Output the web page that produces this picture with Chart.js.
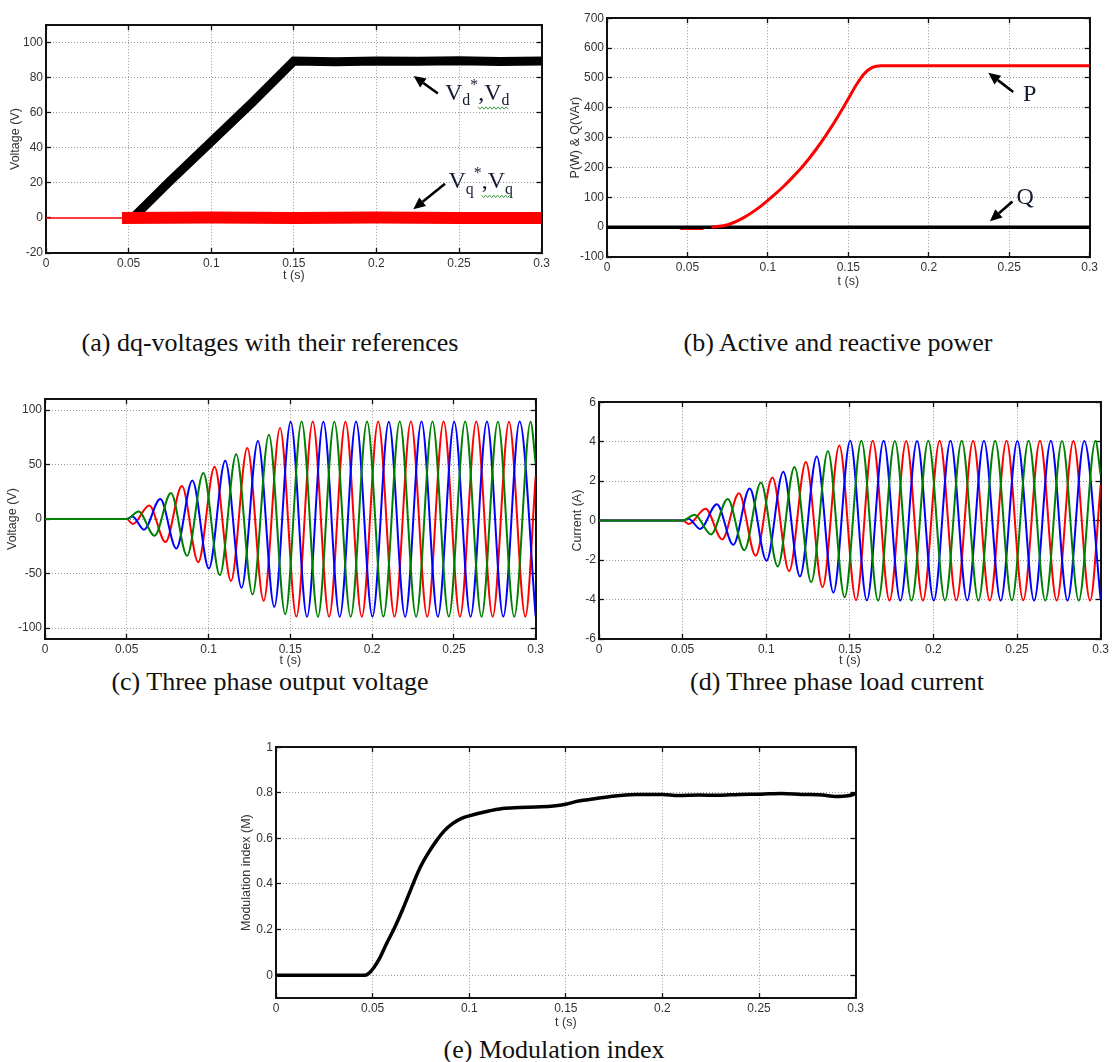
<!DOCTYPE html>
<html>
<head>
<meta charset="utf-8">
<title>Inverter simulation results</title>
<script src="https://cdn.jsdelivr.net/npm/chart.js@4.4.1/dist/chart.umd.min.js"></script>
<style>
  body { margin: 0; background: #fff; }
  #page { position: relative; width: 1117px; height: 1062px; overflow: hidden; background: #fff; }
  #page canvas { position: absolute; }
  .cap { position: absolute; transform: translate(-50%, -50%); white-space: nowrap;
         font-family: "Liberation Serif", "Times New Roman", serif; font-size: 26px; line-height: 1; color: #111; }
</style>
</head>
<body>
<div id="page">
  <div class="cap" style="left:270px; top:343px">(a) dq-voltages with their references</div>
  <div class="cap" style="left:838px; top:343px">(b) Active and reactive power</div>
  <div class="cap" style="left:270px; top:682px">(c) Three phase output voltage</div>
  <div class="cap" style="left:837px; top:682px">(d) Three phase load current</div>
  <div class="cap" style="left:554px; top:1050px">(e) Modulation index</div>
</div>
<script>
// time axis, shared by every plot
const timeTicks = [0, 0.05, 0.1, 0.15, 0.2, 0.25, 0.3];

// (a) dq voltages
const dqTicks = [-20, 0, 20, 40, 60, 80, 100];
const vdTime = [0.053, 0.075, 0.1, 0.125, 0.15, 0.175, 0.2, 0.225, 0.25, 0.275, 0.3];
const vdVolt = [0.5, 21, 43.5, 66, 89.5, 89.2, 89.6, 89.4, 89.7, 89.3, 89.5];
const vqTime = [0, 0.046];
const vqVolt = [0, 0];
const vqBandTime = [0.046, 0.1, 0.15, 0.2, 0.25, 0.3];
const vqBandVolt = [0, 0.2, 0, 0.2, 0, 0];

// (b) active / reactive power
const powerTicks = [-100, 0, 100, 200, 300, 400, 500, 600, 700];
const pTime = [0.065, 0.075, 0.085, 0.095, 0.1, 0.105, 0.11, 0.115, 0.12, 0.125, 0.13, 0.135, 0.14, 0.145, 0.15, 0.155, 0.16, 0.165, 0.17, 0.2, 0.25, 0.3];
const pPower = [0, 8, 32, 68, 90, 113, 138, 165, 194, 226, 261, 299, 340, 384, 430, 477, 515, 535, 541, 541, 541, 541];
const pDashTime = [0.0455, 0.06];
const pDashPower = [-6, -6];
const qTime = [0, 0.3];
const qPower = [0, 0];

// (c) / (d) three phase waveforms, peaks and troughs of each phase
const voltTicks = [-100, -50, 0, 50, 100];
const currTicks = [-6, -4, -2, 0, 2, 4, 6];
const redT = [0, 0.05, 0.0537, 0.0637, 0.0737, 0.0837, 0.0937, 0.1037, 0.1137, 0.1237, 0.1337, 0.1437, 0.1537, 0.1637, 0.1737, 0.1837, 0.1937, 0.2037, 0.2137, 0.2237, 0.2337, 0.2437, 0.2537, 0.2637, 0.2737, 0.2837, 0.2937, 0.3];
const redVolt = [0, 0, -4.5, 12.4, -21, 30.3, -39.5, 48, -56.8, 65.3, -75, 83.6, -89.4, 89.5, -89.5, 89.4, -89.6, 89.5, -89.4, 89.5, -89.5, 89.6, -89.4, 89.5, -89.5, 89.4, -89.5, 39];
const redAmp = [0, 0, -0.17, 0.6, -0.95, 1.38, -1.78, 2.18, -2.57, 2.97, -3.37, 3.8, -4.03, 4.05, -4.05, 4.04, -4.05, 4.05, -4.04, 4.05, -4.05, 4.05, -4.04, 4.05, -4.05, 4.04, -4.05, 1.8];
const greenT = [0, 0.05, 0.0572, 0.067, 0.077, 0.0869, 0.0968, 0.1069, 0.1169, 0.1269, 0.1369, 0.1469, 0.1569, 0.1669, 0.1769, 0.1869, 0.1969, 0.2069, 0.2169, 0.2269, 0.2369, 0.2469, 0.2569, 0.2669, 0.2769, 0.2869, 0.2969, 0.3];
const greenVolt = [0, 0, 7, -15.2, 24, -33.6, 42.4, -51.4, 59.6, -69, 77.5, -87.2, 89.5, -89.5, 89.4, -89.6, 89.5, -89.4, 89.5, -89.5, 89.6, -89.4, 89.5, -89.5, 89.4, -89.5, 89.4, 51];
const greenAmp = [0, 0, 0.3, -0.7, 1.1, -1.5, 1.93, -2.32, 2.72, -3.12, 3.52, -3.88, 4.05, -4.05, 4.04, -4.05, 4.05, -4.04, 4.05, -4.05, 4.05, -4.04, 4.05, -4.05, 4.04, -4.05, 4.05, 2.3];
const blueT = [0, 0.05, 0.0535, 0.0605, 0.0705, 0.0803, 0.0901, 0.1002, 0.1102, 0.1202, 0.1302, 0.1402, 0.1502, 0.1602, 0.1702, 0.1802, 0.1902, 0.2002, 0.2102, 0.2202, 0.2302, 0.2402, 0.2502, 0.2602, 0.2702, 0.2802, 0.2902, 0.3];
const blueVolt = [0, 0, 2.4, -9.7, 18.5, -27, 35.5, -45.3, 53.5, -62.9, 71.7, -80.5, 89.4, -89.5, 89.3, -89.6, 89.5, -89.4, 89.4, -89.6, 89.5, -89.5, 89.3, -89.5, 89.6, -89.4, 89.5, -89.3];
const blueAmp = [0, 0, 0.1, -0.42, 0.83, -1.23, 1.63, -2.03, 2.47, -2.83, 3.25, -3.65, 4.05, -4.04, 4.05, -4.05, 4.04, -4.05, 4.05, -4.04, 4.05, -4.05, 4.04, -4.05, 4.05, -4.05, 4.04, -4.0];

// (e) modulation index
const mTicks = [0, 0.2, 0.4, 0.6, 0.8, 1];
const mTime = [0, 0.0458, 0.0474, 0.0506, 0.0538, 0.057, 0.0613, 0.0656, 0.07, 0.0743, 0.0786, 0.0829, 0.0872, 0.0915, 0.0958, 0.1, 0.109, 0.1173, 0.1259, 0.1345, 0.1435, 0.15, 0.1565, 0.165, 0.1754, 0.186, 0.2, 0.208, 0.219, 0.229, 0.24, 0.2507, 0.2615, 0.272, 0.283, 0.2894, 0.296, 0.3];
const mIndex = [0, 0, 0.004, 0.033, 0.077, 0.135, 0.207, 0.289, 0.381, 0.467, 0.533, 0.588, 0.634, 0.666, 0.687, 0.699, 0.718, 0.731, 0.735, 0.738, 0.742, 0.75, 0.764, 0.774, 0.786, 0.792, 0.793, 0.788, 0.79, 0.789, 0.793, 0.794, 0.797, 0.793, 0.79, 0.784, 0.787, 0.796];

const RED = '#ff0000', GREEN = '#008000', BLUE = '#0000ff', BLACK = '#000000';
const sans = "'Liberation Sans', Arial, sans-serif";
const serif = "'Liberation Serif', 'Times New Roman', serif";

const pts = (xs, ys) => xs.map((x, i) => ({ x, y: ys[i] }));
const fmt = v => String(parseFloat(Number(v).toFixed(3)));

function line(xs, ys, color, width, extra) {
  return Object.assign({
    data: pts(xs, ys), borderColor: color, borderWidth: width,
    pointRadius: 0, fill: false, tension: 0, borderJoinStyle: 'round'
  }, extra || {});
}
const smooth = { cubicInterpolationMode: 'monotone' };

// arrows and the little Vd / Vq / P / Q labels, placed in data units
const notePlugin = {
  id: 'notes',
  afterDatasetsDraw(chart, args, opts) {
    const { ctx } = chart;
    const sx = chart.scales.x, sy = chart.scales.y;
    ctx.save();
    (opts.arrows || []).forEach(a => {
      const x1 = sx.getPixelForValue(a.from[0]), y1 = sy.getPixelForValue(a.from[1]);
      const x2 = sx.getPixelForValue(a.to[0]), y2 = sy.getPixelForValue(a.to[1]);
      const ang = Math.atan2(y2 - y1, x2 - x1);
      const hl = 12, hw = 5.5;
      const bx = x2 - hl * Math.cos(ang), by = y2 - hl * Math.sin(ang);
      ctx.strokeStyle = '#000';
      ctx.lineWidth = 2.6;
      ctx.beginPath(); ctx.moveTo(x1, y1); ctx.lineTo(bx, by); ctx.stroke();
      ctx.fillStyle = '#000';
      ctx.beginPath();
      ctx.moveTo(x2, y2);
      ctx.lineTo(bx + hw * Math.sin(ang), by - hw * Math.cos(ang));
      ctx.lineTo(bx - hw * Math.sin(ang), by + hw * Math.cos(ang));
      ctx.closePath(); ctx.fill();
    });
    (opts.labels || []).forEach(l => {
      let px = sx.getPixelForValue(l.at[0]);
      const py = sy.getPixelForValue(l.at[1]);
      let ws = null, we = null;
      ctx.fillStyle = l.color;
      ctx.textBaseline = 'alphabetic';
      ctx.textAlign = 'left';
      l.runs.forEach(r => {
        const size = r.s ? l.size * 0.66 : l.size;
        const dy = r.s === 'sub' ? l.size * 0.22 : r.s === 'sup' ? -l.size * 0.42 : 0;
        ctx.font = size + 'px ' + serif;
        if (r.w && ws === null) ws = px;
        ctx.fillText(r.t, px, py + dy);
        px += ctx.measureText(r.t).width;
        if (r.w) we = px;
      });
      if (ws !== null) {
        ctx.strokeStyle = '#3a9a3a';
        ctx.lineWidth = 1;
        ctx.beginPath();
        for (let k = 0, xx = ws; xx <= we; xx += 2, k++) {
          const yy = py + 8 + (k % 2 ? 1.2 : -1.2);
          if (k) ctx.lineTo(xx, yy); else ctx.moveTo(xx, yy);
        }
        ctx.stroke();
      }
    });
    ctx.restore();
  }
};

// plot rectangle (L,T,R,B) in page pixels, plus where the axis titles sit
function frame(g) {
  const left = Math.floor(g.yTitleX - 9), top = g.T - 12, right = g.R + 12, bottom = g.B + 40;
  return {
    left, top, w: right - left, h: bottom - top,
    ml: g.L - left, mt: 12, mr: right - g.R, mb: 40,
    pt: g.yTitleX - left - 7.5, pb: bottom - 7.5 - g.xTitleY
  };
}

function boxScales(f, yMin, yMax, yTicks, yTitle) {
  const grid = { color: '#9a9a9a', lineWidth: 1, tickLength: -5, tickColor: '#111', tickWidth: 1.3 };
  const border = { color: '#111', width: 2, dash: [1, 2] };
  const ticks = { font: { family: sans, size: 12 }, color: '#333', padding: 8, maxRotation: 0, autoSkip: false, callback: fmt };
  const title = (text, padding) => ({ display: true, text, color: '#333', font: { family: sans, size: 12.5 }, padding });
  const setTicks = vals => s => { s.ticks = vals.map(value => ({ value })); };
  return {
    x: { type: 'linear', position: 'bottom', min: 0, max: 0.3, afterBuildTicks: setTicks(timeTicks),
         afterFit: s => { s.height = f.mb; }, grid, border, ticks, title: title('t (s)', { top: 0, bottom: f.pb }) },
    y: { type: 'linear', position: 'left', min: yMin, max: yMax, afterBuildTicks: setTicks(yTicks),
         afterFit: s => { s.width = f.ml; }, grid, border, ticks, title: title(yTitle, { top: f.pt, bottom: 0 }) },
    x2: { type: 'linear', position: 'top', min: 0, max: 0.3, afterBuildTicks: setTicks(timeTicks),
          afterFit: s => { s.height = f.mt; }, grid: Object.assign({}, grid, { drawOnChartArea: false }),
          border: { color: '#111', width: 2 }, ticks: { display: false } },
    y2: { type: 'linear', position: 'right', min: yMin, max: yMax, afterBuildTicks: setTicks(yTicks),
          afterFit: s => { s.width = f.mr; }, grid: Object.assign({}, grid, { drawOnChartArea: false }),
          border: { color: '#111', width: 2 }, ticks: { display: false } }
  };
}

function plot(g) {
  const f = frame(g);
  const canvas = document.createElement('canvas');
  canvas.width = f.w;
  canvas.height = f.h;
  Object.assign(canvas.style, { left: f.left + 'px', top: f.top + 'px', width: f.w + 'px', height: f.h + 'px' });
  document.getElementById('page').appendChild(canvas);
  return new Chart(canvas, {
    type: 'line',
    data: { datasets: g.datasets },
    options: {
      responsive: false,
      animation: false,
      events: [],
      layout: { padding: 0 },
      plugins: { legend: { display: false }, tooltip: { enabled: false }, notes: g.notes || {} },
      scales: boxScales(f, g.yMin, g.yMax, g.yTicks, g.yTitle)
    },
    plugins: [notePlugin]
  });
}

const labelInk = '#141a33';

// (a)
plot({
  L: 46, T: 22, R: 546, B: 253, yTitleX: 16, xTitleY: 276,
  yMin: -20, yMax: 110, yTicks: dqTicks, yTitle: 'Voltage (V)',
  datasets: [
    line(vqBandTime, vqBandVolt, RED, 12, { borderCapStyle: 'butt' }),
    line(vqTime, vqVolt, RED, 1.5),
    line(vdTime, vdVolt, BLACK, 9, { borderCapStyle: 'butt', borderJoinStyle: 'miter' })
  ],
  notes: {
    arrows: [{ from: [0.2372, 71], to: [0.2225, 81] }, { from: [0.2415, 19.5], to: [0.2223, 5] }],
    labels: [
      { at: [0.2415, 67.3], size: 24, color: labelInk,
        runs: [{ t: 'V' }, { t: 'd', s: 'sub' }, { t: '*', s: 'sup' }, { t: ',', w: 1 }, { t: 'V', w: 1 }, { t: 'd', s: 'sub', w: 1 }] },
      { at: [0.2436, 16.9], size: 24, color: labelInk,
        runs: [{ t: 'V' }, { t: 'q', s: 'sub' }, { t: '*', s: 'sup' }, { t: ',', w: 1 }, { t: 'V', w: 1 }, { t: 'q', s: 'sub', w: 1 }] }
    ]
  }
});

// (b)
plot({
  L: 607, T: 15, R: 1094, B: 257, yTitleX: 576, xTitleY: 282,
  yMin: -100, yMax: 700, yTicks: powerTicks, yTitle: 'P(W) & Q(VAr)',
  datasets: [
    line(pTime, pPower, RED, 3, smooth),
    line(qTime, qPower, BLACK, 3.5),
    line(pDashTime, pDashPower, RED, 2)
  ],
  notes: {
    arrows: [{ from: [0.2525, 453], to: [0.237, 517] }, { from: [0.252, 86], to: [0.238, 20] }],
    labels: [
      { at: [0.2586, 422], size: 24, color: labelInk, runs: [{ t: 'P' }] },
      { at: [0.2545, 78], size: 24, color: labelInk, runs: [{ t: 'Q' }] }
    ]
  }
});

// (c)
plot({
  L: 45, T: 396, R: 540, B: 639, yTitleX: 12.5, xTitleY: 661,
  yMin: -110, yMax: 110, yTicks: voltTicks, yTitle: 'Voltage (V)',
  datasets: [
    line(greenT, greenVolt, GREEN, 2, smooth),
    line(blueT, blueVolt, BLUE, 2, smooth),
    line(redT, redVolt, RED, 2, smooth)
  ]
});

// (d)
plot({
  L: 599, T: 399, R: 1105, B: 639, yTitleX: 578, xTitleY: 661,
  yMin: -6, yMax: 6, yTicks: currTicks, yTitle: 'Current (A)',
  datasets: [
    line(greenT, greenAmp, GREEN, 2, smooth),
    line(blueT, blueAmp, BLUE, 2, smooth),
    line(redT, redAmp, RED, 2, smooth)
  ]
});

// (e)
plot({
  L: 276, T: 744, R: 860, B: 998, yTitleX: 247, xTitleY: 1023,
  yMin: -0.1, yMax: 1, yTicks: mTicks, yTitle: 'Modulation index (M)',
  datasets: [
    line(mTime, mIndex, BLACK, 3.5, smooth)
  ]
});
</script>
</body>
</html>
